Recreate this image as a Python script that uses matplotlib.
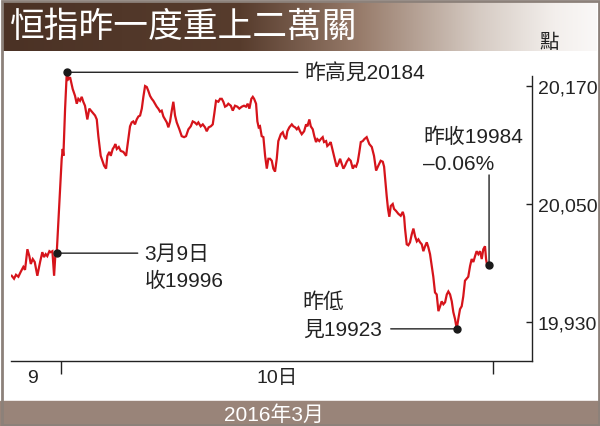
import numpy as np
import matplotlib
matplotlib.use("Agg")
from matplotlib import pyplot as plt
from matplotlib.colors import LinearSegmentedColormap
from matplotlib.patches import Rectangle

plt.rcParams["font.family"] = ["Liberation Sans", "Noto Sans CJK TC"]

# minutes from the open of 10 March (negative = tail of 9 March)
minutes = [
    -37.7, -35.9, -34.4, -32.6, -30.8, -28.8, -27.5, -25.7, -24.2, -23.1,
    -21.6, -20.1, -18.1, -16.0, -14.3, -13.0, -11.7, -10.5, -8.9, -7.9,
    -6.6, -5.3, -4.4, -3.3,
    0.5, 1.3, 1.8, 3.1, 4.4, 5.6, 6.9, 8.9, 10.7, 12.0,
    13.2, 14.5, 15.8, 17.0, 18.3, 20.1, 21.6, 23.5, 24.7, 26.0,
    27.3, 28.5, 30.3, 31.9, 32.9, 34.4, 35.4, 36.9, 38.0, 39.5,
    40.5, 41.5, 42.6, 44.1, 45.6, 47.6, 49.7, 51.4, 52.7, 54.0,
    55.2, 56.5, 57.8, 59.1, 60.4, 61.7, 62.9, 64.2, 65.5, 66.7,
    68.0, 69.3, 70.5, 71.8, 73.1, 74.3, 75.6, 76.9, 78.2, 79.5,
    80.8, 82.0, 83.3, 84.6, 85.8, 87.1, 88.4, 90.4, 92.2, 94.0,
    95.5, 97.3, 99.1, 100.6, 102.1, 103.7, 104.9, 106.7, 108.3, 110.0,
    111.3, 112.8, 114.4, 115.9, 117.1, 118.4, 120.2, 121.5, 122.8, 124.0,
    125.3, 126.6, 127.8, 129.7, 131.2, 132.9, 134.7, 136.2, 138.1, 139.8,
    141.3, 142.6, 143.9, 145.4, 146.5, 147.5, 149.0, 150.0, 151.0, 152.0,
    153.3, 154.6, 155.9, 157.2, 158.4, 159.7, 161.0, 162.2, 163.5, 164.8,
    166.0, 167.9, 169.4, 170.4, 171.9, 172.9, 174.4, 176.3, 177.5, 178.8,
    180.1, 181.3, 182.6, 183.9, 185.7, 187.2, 188.2, 189.7, 190.8, 192.3,
    193.5, 194.8, 195.8, 197.3, 198.4, 199.9, 200.9, 202.5, 203.4, 205.0,
    206.0, 207.6, 208.6, 209.6, 210.6, 211.8, 213.2, 214.4, 215.7, 217.0,
    218.3, 219.8, 221.3, 222.9, 224.1, 225.4, 226.7, 227.9, 229.0, 230.5,
    231.7, 233.5, 235.5, 237.4, 239.1, 240.7, 242.4, 244.2, 245.8, 246.8,
    247.8, 248.8, 249.8, 250.8, 251.9, 253.4, 254.4, 255.9, 257.7, 259.5,
    261.1, 262.1, 262.8, 264.1, 265.3, 266.6, 267.9, 269.2, 270.5, 271.8,
    273.0, 274.3, 275.6, 276.8, 278.1, 279.4, 280.6, 281.9, 283.2, 284.4,
    285.7, 287.0, 288.3, 289.6, 290.8, 292.1, 293.4, 294.7, 295.9, 297.2,
    298.5, 299.7, 301.0, 302.3, 303.5, 304.8, 306.1, 307.3, 308.6, 309.9,
    311.1, 312.5, 313.7, 315.0, 316.3, 317.5, 318.8, 320.1, 321.4, 322.6,
    323.9, 324.7, 325.7, 327.0,
]
hsi = [
    19977, 19974, 19978, 19976, 19981, 19986, 19983, 20004, 19997, 19989,
    19994, 19991, 19977, 19991, 20001, 19996, 19999, 19997, 20002, 20001,
    20002, 19977, 19997, 20000,
    20096, 20106, 20099, 20147, 20184, 20177, 20179, 20167, 20160, 20152,
    20157, 20155, 20159, 20154, 20150, 20136, 20147, 20144, 20142, 20140,
    20136, 20119, 20099, 20093, 20089, 20086, 20099, 20103, 20099, 20106,
    20108, 20111, 20106, 20108, 20104, 20103, 20099, 20116, 20129, 20133,
    20134, 20131, 20136, 20139, 20140, 20147, 20159, 20170, 20169, 20165,
    20160, 20157, 20155, 20152, 20149, 20147, 20144, 20145, 20139, 20136,
    20133, 20128, 20134, 20145, 20154, 20140, 20133, 20126, 20119, 20118,
    20119, 20126, 20129, 20134, 20133, 20131, 20133, 20129, 20131, 20128,
    20124, 20128, 20129, 20131, 20142, 20155, 20154, 20157, 20157, 20154,
    20149, 20150, 20152, 20150, 20145, 20150, 20149, 20147, 20149, 20150,
    20149, 20152, 20147, 20157, 20159, 20157, 20152, 20134, 20128, 20129,
    20119, 20118, 20099, 20086, 20096, 20096, 20094, 20086, 20083, 20096,
    20114, 20121, 20123, 20119, 20116, 20124, 20128, 20131, 20129, 20128,
    20126, 20128, 20124, 20121, 20124, 20131, 20129, 20136, 20129, 20126,
    20119, 20113, 20116, 20114, 20116, 20118, 20113, 20114, 20109, 20111,
    20113, 20104, 20098, 20093, 20088, 20091, 20096, 20091, 20086, 20089,
    20093, 20096, 20094, 20086, 20089, 20088, 20093, 20103, 20113, 20114,
    20116, 20118, 20111, 20108, 20099, 20084, 20089, 20094, 20093, 20088,
    20073, 20058, 20045, 20037, 20048, 20050, 20045, 20043, 20040, 20038,
    20042, 20037, 20025, 20009, 20008, 20011, 20019, 20025, 20017, 20012,
    20014, 20011, 20009, 20002, 20007, 20011, 20006, 19999, 19987, 19976,
    19960, 19958, 19941, 19946, 19951, 19948, 19950, 19958, 19961, 19958,
    19951, 19940, 19933, 19923, 19933, 19943, 19946, 19956, 19972, 19974,
    19976, 19987, 19994, 19991, 19997, 20002, 19999, 20002, 19994, 20004,
    20007, 19994, 19986, 19988,
]

y_ticks = [19930, 20050, 20170]
y_tick_labels = ["19,930", "20,050", "20,170"]
day_bounds = [0, 330]
day_label_pos = [-22, 165]
day_labels = ["9", "10日"]

title = "恒指昨一度重上二萬關"
unit = "點"
period = "2016年3月"

RED = "#d6141b"
W, H = 600, 427

fig = plt.figure(figsize=(W / 100, H / 100), dpi=100)

# background decoration in pixel space
bg = fig.add_axes([0, 0, 1, 1], zorder=0)
bg.set_xlim(0, W)
bg.set_ylim(H, 0)
bg.axis("off")
cmap = LinearSegmentedColormap.from_list(
    "bar",
    [(0, "#4b3225"), (0.40, "#573c2d"), (0.60, "#977b6a"),
     (0.80, "#d5cac2"), (0.93, "#f3efec"), (1, "#faf8f7")],
)
bg.imshow(np.linspace(0, 1, 256)[None, :], cmap=cmap, aspect="auto",
          extent=(3, W - 3, 52, 3), zorder=1)
bg.add_patch(Rectangle((0, 402), W, 25, color="#998479", zorder=1))
bg.add_patch(Rectangle((1.5, 1.5), W - 3, H - 3, fill=False,
                       edgecolor="#8c817a", lw=2, zorder=2))
bg.text(10, 27, title, color="white", fontsize=25, va="center", ha="left",
        family=["Noto Sans CJK TC"], zorder=3)
bg.text(549, 42, unit, color="#222222", fontsize=14, va="center", ha="center",
        family=["Noto Sans CJK TC"], zorder=3)
bg.text(274, 415, period, color="white", fontsize=15, va="center",
        ha="center", zorder=3)

# main chart
ax = fig.add_axes([10.9 / W, 1 - 362 / H, 521.1 / W, 302 / H], zorder=2)
ax.patch.set_alpha(0)
ax.set_xlim(-38.3, 359.8)
ax.set_ylim(19890.3, 20197.5)

ax.plot(minutes, hsi, color=RED, lw=1.6, zorder=3, solid_joinstyle="miter")

for s in ["top", "left"]:
    ax.spines[s].set_visible(False)
ax.spines["right"].set_bounds(19890.3, 20180.2)
for s in ["right", "bottom"]:
    ax.spines[s].set_linewidth(1.0)
    ax.spines[s].set_color("#222222")

ax.yaxis.tick_right()
ax.set_yticks(y_ticks)
ax.set_yticklabels(y_tick_labels)
ax.tick_params(axis="y", direction="in", length=4, width=1, pad=4,
               labelsize=14, colors="#222222")

ax.set_xticks(day_bounds)
ax.set_xticklabels([])
ax.tick_params(axis="x", which="major", direction="out", length=9.5, width=1,
               colors="#222222")
ax.set_xticks(day_label_pos, minor=True)
ax.set_xticklabels(day_labels, minor=True)
ax.tick_params(axis="x", which="minor", length=0, pad=6, labelsize=14,
               colors="#222222")

i_high = int(np.argmax(hsi))
i_low = int(np.argmin(hsi))
i_prev = 23
i_last = len(hsi) - 1


def leader(i, dx, dy):
    ax.annotate("", xy=(minutes[i], hsi[i]), xytext=(dx, dy),
                textcoords="offset points",
                arrowprops=dict(arrowstyle="-", color="#222222", lw=1.0,
                                shrinkA=0, shrinkB=0), zorder=4)
    ax.plot(minutes[i], hsi[i], "o", color="#1a1a1a", ms=5, zorder=5)


def label(i, text, dx, dy):
    ax.annotate(text, xy=(minutes[i], hsi[i]), xytext=(dx, dy),
                textcoords="offset points", ha="left", va="center",
                fontsize=15, color="#222222", zorder=5)


PX = 0.72  # points per pixel

leader(i_high, 231 * PX, 0)
label(i_high, f"昨高見{hsi[i_high]}", 238 * PX, 0)

leader(i_prev, 81 * PX, 0)
label(i_prev, "3月9日", 88 * PX, 0)
label(i_prev, "收19996", 88 * PX, -27 * PX)

leader(i_low, -66 * PX, 0)
label(i_low, "昨低", -154 * PX, 28 * PX)
label(i_low, f"見{hsi[i_low]}", -154 * PX, 0)

leader(i_last, 0, 90 * PX)
label(i_last, "昨收19984", -66 * PX, 129 * PX)
label(i_last, "–0.06%", -66 * PX, 101 * PX)

fig.savefig("out.png", dpi=100)
